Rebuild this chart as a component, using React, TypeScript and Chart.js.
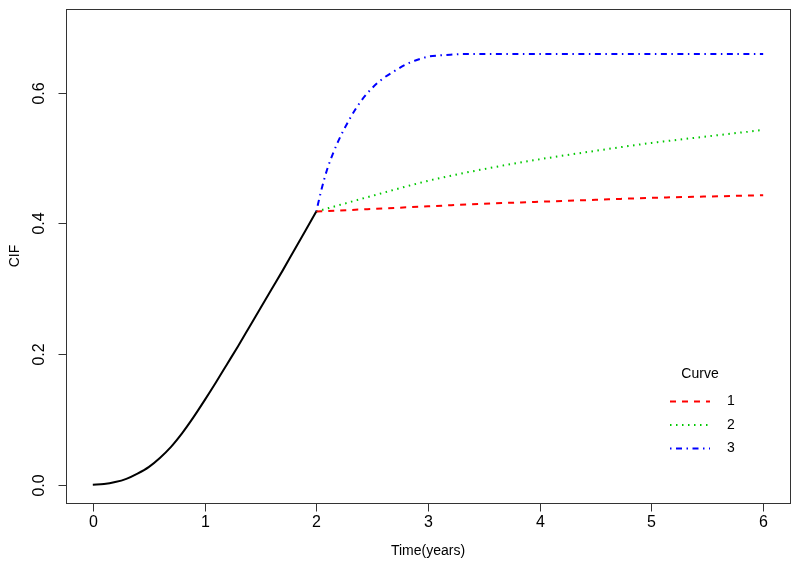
import React, { useEffect, useRef } from "react";
import { Chart, registerables } from "chart.js";

Chart.register(...registerables);

// Baseline CIF (black), t = 0..2
const baseT = [0, 0.1, 0.2, 0.3, 0.4, 0.5, 0.6, 0.7, 0.8, 0.9, 1.0, 1.1, 1.2, 1.3, 1.4, 1.5, 1.6, 1.7, 1.8, 1.9, 2.0];
const baseCIF = [0, 0.001, 0.004, 0.009, 0.017, 0.027, 0.041, 0.058, 0.079, 0.103, 0.129, 0.156, 0.184, 0.212, 0.241, 0.27, 0.299, 0.328, 0.358, 0.388, 0.418];

// Curve 1 (red, dashed)
const curve1T = [2, 2.5, 3, 3.5, 4, 4.5, 5, 5.5, 6];
const curve1 = [0.418, 0.422, 0.426, 0.43, 0.433, 0.436, 0.439, 0.441, 0.443];

// Curve 2 (green, dotted)
const curve2T = [2, 2.5, 3, 3.5, 4, 4.5, 5, 5.5, 6];
const curve2 = [0.418, 0.442, 0.465, 0.483, 0.498, 0.511, 0.523, 0.533, 0.543];

// Curve 3 (blue, dot-dash)
const curve3T = [2, 2.05, 2.1, 2.15, 2.2, 2.3, 2.4, 2.5, 2.6, 2.7, 2.8, 2.9, 3.0, 3.1, 3.2, 3.3, 3.5, 4, 5, 6];
const curve3 = [0.418, 0.454, 0.484, 0.507, 0.527, 0.56, 0.587, 0.607, 0.622, 0.633, 0.643, 0.65, 0.655, 0.657, 0.658, 0.659, 0.659, 0.659, 0.659, 0.659];

const xTicks = [0, 1, 2, 3, 4, 5, 6];
const yTicks = [0, 0.2, 0.4, 0.6];
const yTickLabels = ["0.0", "0.2", "0.4", "0.6"];
const legendTitle = "Curve";
const legendLabels = ["1", "2", "3"];
const legendColors = ["#ff0000", "#00c800", "#0000ff"];
const legendDashes = [[6, 6], [1.5, 4.5], [1.5, 4.5, 6, 4.5]];

const FONT = "'Liberation Sans', Arial, Helvetica, sans-serif";

const pts = (t: number[], v: number[]) => t.map((x, i) => ({ x, y: v[i] }));

const axesPlugin = {
  id: "rAxes",
  afterDraw(chart: any) {
    const { ctx, chartArea } = chart;
    const xs = chart.scales.x;
    const ys = chart.scales.y;
    const { left, right, top, bottom } = chartArea;
    ctx.save();
    ctx.strokeStyle = "#333";
    ctx.lineWidth = 1;
    ctx.setLineDash([]);
    ctx.strokeRect(Math.round(left) + 0.5, Math.round(top) + 0.5, Math.round(right - left), Math.round(bottom - top));
    ctx.fillStyle = "#000";
    // x ticks
    ctx.font = `16px ${FONT}`;
    ctx.textAlign = "center";
    ctx.textBaseline = "middle";
    xTicks.forEach((v) => {
      const px = Math.round(xs.getPixelForValue(v)) + 0.5;
      ctx.beginPath();
      ctx.moveTo(px, Math.round(bottom) + 0.5);
      ctx.lineTo(px, Math.round(bottom) + 8.5);
      ctx.stroke();
      ctx.fillText(String(v), px, bottom + 20);
    });
    // y ticks
    yTicks.forEach((v, i) => {
      const py = Math.round(ys.getPixelForValue(v)) + 0.5;
      ctx.beginPath();
      ctx.moveTo(Math.round(left) + 0.5, py);
      ctx.lineTo(Math.round(left) - 7.5, py);
      ctx.stroke();
      ctx.save();
      ctx.translate(left - 26, py);
      ctx.rotate(-Math.PI / 2);
      ctx.fillText(yTickLabels[i], 0, 0);
      ctx.restore();
    });
    // axis titles
    ctx.font = `14px ${FONT}`;
    ctx.fillText("Time(years)", (left + right) / 2, bottom + 48);
    ctx.save();
    ctx.translate(left - 51, (top + bottom) / 2);
    ctx.rotate(-Math.PI / 2);
    ctx.fillText("CIF", 0, 0);
    ctx.restore();
    // legend
    ctx.font = `14px ${FONT}`;
    ctx.fillText(legendTitle, 700, 374);
    legendLabels.forEach((lab, i) => {
      const y = 401.5 + i * 23.5;
      ctx.save();
      ctx.strokeStyle = legendColors[i];
      ctx.lineWidth = 2;
      ctx.setLineDash(legendDashes[i]);
      ctx.beginPath();
      ctx.moveTo(670, y);
      ctx.lineTo(710, y);
      ctx.stroke();
      ctx.restore();
      ctx.fillText(lab, 731, y);
    });
    ctx.restore();
  },
};

export default function App() {
  const ref = useRef<HTMLCanvasElement>(null);
  useEffect(() => {
    if (!ref.current) return;
    const common = { pointRadius: 0, borderWidth: 2, cubicInterpolationMode: "monotone" as const, fill: false };
    const chart = new Chart(ref.current, {
      type: "line",
      data: {
        datasets: [
          { ...common, label: "base", data: pts(baseT, baseCIF), borderColor: "#000000" },
          { ...common, label: "1", data: pts(curve1T, curve1), borderColor: legendColors[0], borderDash: legendDashes[0] },
          { ...common, label: "2", data: pts(curve2T, curve2), borderColor: legendColors[1], borderDash: legendDashes[1] },
          { ...common, label: "3", data: pts(curve3T, curve3), borderColor: legendColors[2], borderDash: legendDashes[2] },
        ],
      },
      options: {
        animation: false,
        responsive: false,
        events: [],
        layout: { padding: { left: 66, top: 9, right: 10, bottom: 69 } },
        plugins: { legend: { display: false }, tooltip: { enabled: false } },
        scales: {
          x: { type: "linear", min: -0.24, max: 6.24, display: false },
          y: { type: "linear", min: -0.028, max: 0.728, display: false },
        },
      },
      plugins: [axesPlugin],
    });
    return () => chart.destroy();
  }, []);
  return (
    <div style={{ position: "fixed", left: 0, top: 0, width: 800, height: 572, background: "#fff" }}>
      <canvas ref={ref} width={800} height={572} style={{ width: 800, height: 572 }} />
    </div>
  );
}
